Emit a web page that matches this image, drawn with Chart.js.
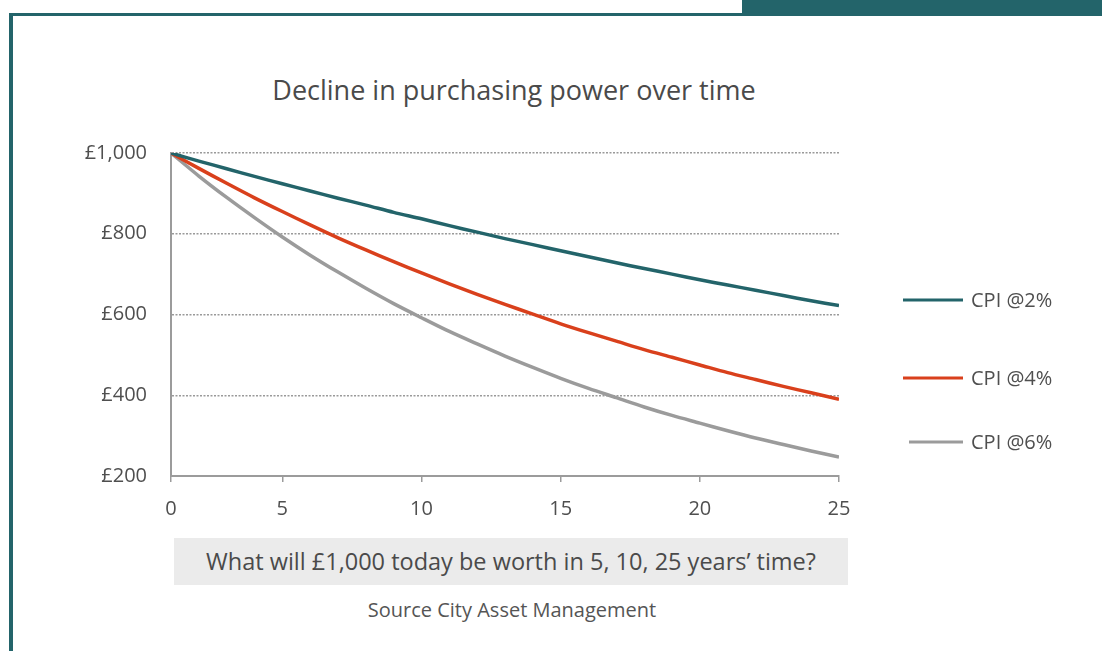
<!DOCTYPE html>
<html>
<head>
<meta charset="utf-8">
<script src="https://cdn.jsdelivr.net/npm/chart.js@4"></script>
<style>
  html, body { margin: 0; padding: 0; background: #fff; }
  body { width: 1102px; height: 651px; position: relative; overflow: hidden; font-family: "Open Sans", sans-serif; }
  #tab { position: absolute; left: 742px; top: 0; width: 360px; height: 16px; background: #23646a; }
  #card { position: absolute; left: 9px; top: 13px; width: 1100px; height: 700px; border-left: 4px solid #23646a; border-top: 3px solid #23646a; background: #fff; }
  #title { position: absolute; left: 0; top: 71px; width: 1028px; text-align: center; color: #4a4a4a; font-size: 27px; line-height: 38px; }
  #wrap { position: absolute; left: 0; top: 0; width: 1102px; height: 530px; }
  #caption { position: absolute; left: 174px; top: 538px; width: 674px; height: 47px; background: #ebebeb; color: #4a4a4a; font-size: 23.5px; line-height: 46px; text-align: center; }
  #source { position: absolute; left: 0; width: 1024px; top: 596px; text-align: center; color: #555; font-size: 20px; line-height: 28px; }
</style>
</head>
<body>
<div id="tab"></div>
<div id="card"></div>
<div id="title">Decline in purchasing power over time</div>
<div id="wrap"><canvas id="chart" width="1102" height="530"></canvas></div>
<div id="caption">What will £1,000 today be worth in 5, 10, 25 years’ time?</div>
<div id="source">Source City Asset Management</div>
<script>
// years 1..25 (first point is shown as "0" on the axis)
const years = [1, 2, 3, 4, 5, 6, 7, 8, 9, 10, 11, 12, 13, 14, 15, 16, 17, 18, 19, 20, 21, 22, 23, 24, 25];
const cpi2 = [1000, 980, 961, 942, 924, 906, 888, 871, 853, 837, 820, 804, 788, 773, 758, 743, 728, 714, 700, 686, 673, 660, 647, 634, 622];
const cpi4 = [1000, 962, 925, 889, 855, 822, 790, 760, 731, 703, 676, 650, 625, 601, 577, 555, 534, 513, 494, 475, 456, 439, 422, 406, 390];
const cpi6 = [1000, 943, 890, 840, 792, 747, 705, 665, 627, 592, 558, 527, 497, 469, 442, 417, 394, 371, 350, 331, 312, 294, 278, 262, 247];
const seriesNames = ['CPI @2%', 'CPI @4%', 'CPI @6%'];
const seriesColors = ['#23646a', '#d9401c', '#9b9b9b'];
const xTickValues = [1, 5, 10, 15, 20, 25];
const xTickLabels = ['0', '5', '10', '15', '20', '25'];
const yTickValues = [200, 400, 600, 800, 1000];

const txt = '#4f4f4f';
const font = '"Open Sans", sans-serif';

function pts(vals) {
  return vals.map((v, i) => ({ x: years[i], y: v }));
}

// legend drawn at the right, rows unevenly spaced like the original
const sideLegend = {
  id: 'sideLegend',
  afterDraw(chart) {
    const ctx = chart.ctx;
    const rows = [300, 378, 442];
    ctx.save();
    ctx.font = '20px ' + font;
    ctx.textBaseline = 'middle';
    chart.data.datasets.forEach((ds, i) => {
      const y = rows[i];
      ctx.strokeStyle = ds.borderColor;
      ctx.lineWidth = 3;
      ctx.beginPath();
      ctx.moveTo(i === 2 ? 909 : 903, y);
      ctx.lineTo(963, y);
      ctx.stroke();
      ctx.fillStyle = txt;
      ctx.fillText(ds.label, 971, y + 1);
    });
    ctx.restore();
  }
};

new Chart(document.getElementById('chart'), {
  type: 'line',
  data: {
    datasets: [
      { label: seriesNames[0], data: pts(cpi2), borderColor: seriesColors[0] },
      { label: seriesNames[1], data: pts(cpi4), borderColor: seriesColors[1] },
      { label: seriesNames[2], data: pts(cpi6), borderColor: seriesColors[2] }
    ]
  },
  options: {
    responsive: false,
    animation: false,
    layout: { padding: { left: 60, right: 263, top: 153, bottom: 4 } },
    elements: {
      line: { borderWidth: 3.5, tension: 0.3, fill: false },
      point: { radius: 0 }
    },
    plugins: {
      legend: { display: false },
      tooltip: { enabled: false }
    },
    scales: {
      x: {
        type: 'linear',
        min: 1,
        max: 25,
        afterBuildTicks(scale) {
          scale.ticks = xTickValues.map(v => ({ value: v }));
        },
        afterFit(scale) { scale.height = 50; },
        border: { display: true, color: '#9b9b9b', width: 2 },
        grid: { drawOnChartArea: false, drawTicks: true, tickLength: 6, color: '#9b9b9b', lineWidth: 1.5 },
        ticks: {
          autoSkip: false,
          maxRotation: 0,
          padding: 15,
          color: txt,
          font: { family: font, size: 20 },
          callback: (v) => xTickLabels[xTickValues.indexOf(v)]
        }
      },
      y: {
        min: 200,
        max: 1000,
        afterBuildTicks(scale) {
          scale.ticks = yTickValues.map(v => ({ value: v }));
        },
        afterFit(scale) { scale.width = 111; },
        border: { display: true, color: '#9b9b9b', width: 2, dash: [2, 1.5] },
        grid: {
          drawTicks: false,
          color: (c) => c.tick.value === 200 ? 'rgba(0,0,0,0)' : '#9a9a9a',
          lineWidth: 1.5
        },
        ticks: {
          padding: 24,
          color: txt,
          font: { family: font, size: 20 },
          callback: (v) => '£' + v.toLocaleString('en-GB')
        }
      }
    }
  },
  plugins: [sideLegend]
});
</script>
</body>
</html>
